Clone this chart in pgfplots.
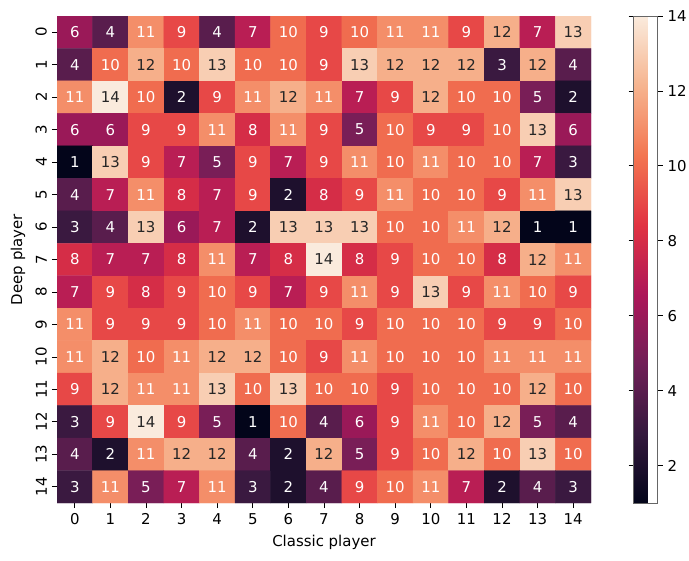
\documentclass[border=0pt]{standalone}
\usepackage{fontspec}
\setmainfont{DejaVu Sans}
\usepackage{pgfplots}
\usepackage{pgfplotstable}
\pgfplotsset{compat=1.18}
\definecolor{annotdark}{HTML}{262626}

% x = classic player, y = deep player, c = value
\pgfplotstableread[row sep=\\]{
x y c\\
0 0 6\\ 1 0 4\\ 2 0 11\\ 3 0 9\\ 4 0 4\\ 5 0 7\\ 6 0 10\\ 7 0 9\\ 8 0 10\\ 9 0 11\\ 10 0 11\\ 11 0 9\\ 12 0 12\\ 13 0 7\\ 14 0 13\\
0 1 4\\ 1 1 10\\ 2 1 12\\ 3 1 10\\ 4 1 13\\ 5 1 10\\ 6 1 10\\ 7 1 9\\ 8 1 13\\ 9 1 12\\ 10 1 12\\ 11 1 12\\ 12 1 3\\ 13 1 12\\ 14 1 4\\
0 2 11\\ 1 2 14\\ 2 2 10\\ 3 2 2\\ 4 2 9\\ 5 2 11\\ 6 2 12\\ 7 2 11\\ 8 2 7\\ 9 2 9\\ 10 2 12\\ 11 2 10\\ 12 2 10\\ 13 2 5\\ 14 2 2\\
0 3 6\\ 1 3 6\\ 2 3 9\\ 3 3 9\\ 4 3 11\\ 5 3 8\\ 6 3 11\\ 7 3 9\\ 8 3 5\\ 9 3 10\\ 10 3 9\\ 11 3 9\\ 12 3 10\\ 13 3 13\\ 14 3 6\\
0 4 1\\ 1 4 13\\ 2 4 9\\ 3 4 7\\ 4 4 5\\ 5 4 9\\ 6 4 7\\ 7 4 9\\ 8 4 11\\ 9 4 10\\ 10 4 11\\ 11 4 10\\ 12 4 10\\ 13 4 7\\ 14 4 3\\
0 5 4\\ 1 5 7\\ 2 5 11\\ 3 5 8\\ 4 5 7\\ 5 5 9\\ 6 5 2\\ 7 5 8\\ 8 5 9\\ 9 5 11\\ 10 5 10\\ 11 5 10\\ 12 5 9\\ 13 5 11\\ 14 5 13\\
0 6 3\\ 1 6 4\\ 2 6 13\\ 3 6 6\\ 4 6 7\\ 5 6 2\\ 6 6 13\\ 7 6 13\\ 8 6 13\\ 9 6 10\\ 10 6 10\\ 11 6 11\\ 12 6 12\\ 13 6 1\\ 14 6 1\\
0 7 8\\ 1 7 7\\ 2 7 7\\ 3 7 8\\ 4 7 11\\ 5 7 7\\ 6 7 8\\ 7 7 14\\ 8 7 8\\ 9 7 9\\ 10 7 10\\ 11 7 10\\ 12 7 8\\ 13 7 12\\ 14 7 11\\
0 8 7\\ 1 8 9\\ 2 8 8\\ 3 8 9\\ 4 8 10\\ 5 8 9\\ 6 8 7\\ 7 8 9\\ 8 8 11\\ 9 8 9\\ 10 8 13\\ 11 8 9\\ 12 8 11\\ 13 8 10\\ 14 8 9\\
0 9 11\\ 1 9 9\\ 2 9 9\\ 3 9 9\\ 4 9 10\\ 5 9 11\\ 6 9 10\\ 7 9 10\\ 8 9 9\\ 9 9 10\\ 10 9 10\\ 11 9 10\\ 12 9 9\\ 13 9 9\\ 14 9 10\\
0 10 11\\ 1 10 12\\ 2 10 10\\ 3 10 11\\ 4 10 12\\ 5 10 12\\ 6 10 10\\ 7 10 9\\ 8 10 11\\ 9 10 10\\ 10 10 10\\ 11 10 10\\ 12 10 11\\ 13 10 11\\ 14 10 11\\
0 11 9\\ 1 11 12\\ 2 11 11\\ 3 11 11\\ 4 11 13\\ 5 11 10\\ 6 11 13\\ 7 11 10\\ 8 11 10\\ 9 11 9\\ 10 11 10\\ 11 11 10\\ 12 11 10\\ 13 11 12\\ 14 11 10\\
0 12 3\\ 1 12 9\\ 2 12 14\\ 3 12 9\\ 4 12 5\\ 5 12 1\\ 6 12 10\\ 7 12 4\\ 8 12 6\\ 9 12 9\\ 10 12 11\\ 11 12 10\\ 12 12 12\\ 13 12 5\\ 14 12 4\\
0 13 4\\ 1 13 2\\ 2 13 11\\ 3 13 12\\ 4 13 12\\ 5 13 4\\ 6 13 2\\ 7 13 12\\ 8 13 5\\ 9 13 9\\ 10 13 10\\ 11 13 12\\ 12 13 10\\ 13 13 13\\ 14 13 10\\
0 14 3\\ 1 14 11\\ 2 14 5\\ 3 14 7\\ 4 14 11\\ 5 14 3\\ 6 14 2\\ 7 14 4\\ 8 14 9\\ 9 14 10\\ 10 14 11\\ 11 14 7\\ 12 14 2\\ 13 14 4\\ 14 14 3\\
}\heat

\begin{document}
\fontsize{15}{18}\selectfont
\begin{tikzpicture}
\path[use as bounding box] (0,0) rectangle (689bp,-561bp);
\begin{axis}[
    scale only axis,
    width=534bp, height=487bp,
    at={(57bp,-16bp)}, anchor=north west,
    xmin=-0.5, xmax=14.5, ymin=-0.5, ymax=14.5,
    y dir=reverse,
    enlargelimits=false,
    xtick={0,...,14}, ytick={0,...,14},
    tick pos=left, tick align=outside,
    major tick length=5bp,
    tick style={black, line width=0.8bp},
    axis line style={draw=none},
    /pgf/number format/assume math mode=true,
    yticklabel style={rotate=90},
    xlabel={Classic player}, ylabel={Deep player},
    colormap={rocket}{rgb255=(3,5,26) rgb255=(53,25,62) rgb255=(112,31,87)
        rgb255=(173,23,89) rgb255=(225,51,66) rgb255=(243,118,81)
        rgb255=(246,180,143) rgb255=(250,235,221)},
    point meta min=1, point meta max=14,
    colorbar,
    colorbar style={
        at={(parent axis.north east)}, anchor=north west, xshift=34bp,
        width=24bp,
        ytick={2,4,...,14}, yticklabel pos=right,
        tick align=outside, major tick length=5bp,
        tick style={black, line width=0.8bp},
        axis line style={draw=black!60, line width=0.6bp},
        /pgf/number format/assume math mode=true,
    },
]
\addplot[matrix plot*, mesh/cols=15, point meta=explicit,
    visualization depends on={\thisrow{c} \as \cval},
    nodes near coords={\ifdim\cval pt>11.5pt\color{annotdark}\else\color{white}\fi\pgfmathprintnumber{\pgfplotspointmeta}},
    nodes near coords align=center,
] table[x=x, y=y, meta=c] {\heat};
\end{axis}
\end{tikzpicture}
\end{document}
